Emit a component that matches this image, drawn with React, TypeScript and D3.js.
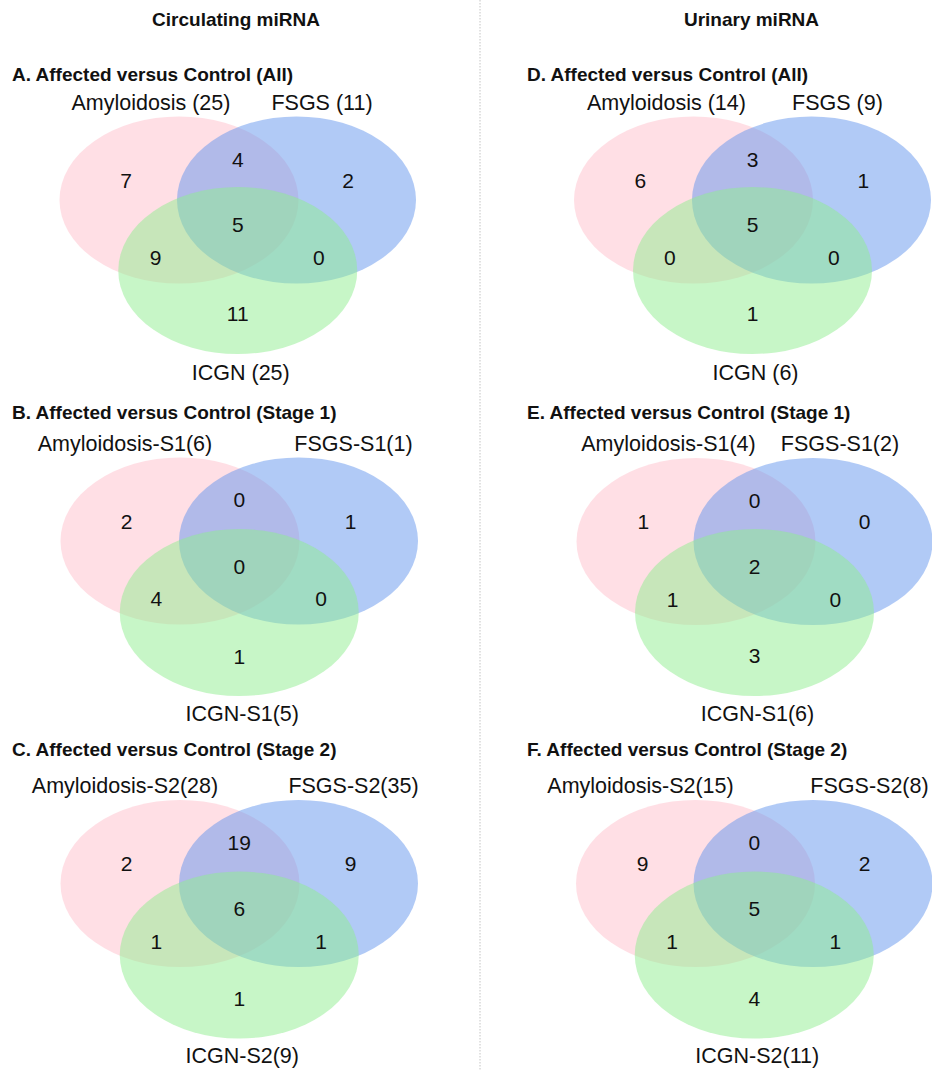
import React, { useEffect, useRef } from 'react';
import * as d3 from 'd3';

const columnHeaders = ["Circulating miRNA", "Urinary miRNA"];

const panelTitles = [
  "A. Affected versus Control (All)",
  "B. Affected versus Control (Stage 1)",
  "C. Affected versus Control (Stage 2)",
  "D. Affected versus Control (All)",
  "E. Affected versus Control (Stage 1)",
  "F. Affected versus Control (Stage 2)",
];

const setNames = [
  ["Amyloidosis (25)", "FSGS (11)", "ICGN (25)"],
  ["Amyloidosis-S1(6)", "FSGS-S1(1)", "ICGN-S1(5)"],
  ["Amyloidosis-S2(28)", "FSGS-S2(35)", "ICGN-S2(9)"],
  ["Amyloidosis (14)", "FSGS (9)", "ICGN (6)"],
  ["Amyloidosis-S1(4)", "FSGS-S1(2)", "ICGN-S1(6)"],
  ["Amyloidosis-S2(15)", "FSGS-S2(8)", "ICGN-S2(11)"],
];

// region order: only Amy, Amy&FSGS, only FSGS, all three, Amy&ICGN, FSGS&ICGN, only ICGN
const regionCounts = [
  [7, 4, 2, 5, 9, 0, 11],
  [2, 0, 1, 0, 4, 0, 1],
  [2, 19, 9, 6, 1, 1, 1],
  [6, 3, 1, 5, 0, 0, 1],
  [1, 0, 0, 2, 1, 0, 3],
  [9, 0, 2, 5, 1, 1, 4],
];

const setColors = ["pink", "cornflowerblue", "lightgreen"];

// where each panel sits on the page (pixel layout, not data)
const frames = [
  { ax: 179, bx: 296.5, ay: 200, cy: 270.5, tx: 12, ty: 81, ldx: -28, rdx: 143 },
  { ax: 180, bx: 298.5, ay: 541, cy: 612.5, tx: 12, ty: 419, ldx: -55, rdx: 173.5 },
  { ax: 180, bx: 298.5, ay: 883.5, cy: 955, tx: 12, ty: 756, ldx: -55, rdx: 173.5 },
  { ax: 693.5, bx: 811.5, ay: 200, cy: 270.5, tx: 527, ty: 81, ldx: -27, rdx: 144 },
  { ax: 696, bx: 813, ay: 541.5, cy: 612.5, tx: 527, ty: 419, ldx: -27.5, rdx: 144 },
  { ax: 695.5, bx: 813, ay: 883.5, cy: 955, tx: 527, ty: 756, ldx: -55, rdx: 174 },
];

// region label spots in venn units (x: Amy centre=0, FSGS centre=1; y: top row=0, ICGN centre=1)
const regionSpots = [
  [-0.45, -0.28], [0.5, -0.58], [1.44, -0.28], [0.5, 0.35],
  [-0.2, 0.81], [1.19, 0.81], [0.5, 1.61],
];

const W = 932, H = 1070;
const FONT = "'Liberation Sans', Arial, Helvetica, sans-serif";

export default function App() {
  const ref = useRef<SVGSVGElement>(null);

  useEffect(() => {
    const svg = d3.select(ref.current);
    svg.selectAll("*").remove();
    svg.attr("font-family", FONT);

    svg.append("line")
      .attr("x1", 480).attr("x2", 480)
      .attr("y1", 0).attr("y2", H)
      .attr("stroke", "#c4c4c4")
      .attr("stroke-width", 1)
      .attr("stroke-dasharray", "1.5,1.5");

    svg.selectAll("text.header")
      .data(columnHeaders)
      .enter().append("text")
      .attr("class", "header")
      .attr("x", (d, i) => [236, 751.5][i])
      .attr("y", 26)
      .attr("text-anchor", "middle")
      .attr("font-size", 19)
      .attr("font-weight", "bold")
      .attr("fill", "#111")
      .text(d => d);

    frames.forEach((f, p) => {
      const x = d3.scaleLinear().domain([0, 1]).range([f.ax, f.bx]);
      const y = d3.scaleLinear().domain([0, 1]).range([f.ay, f.cy]);
      const g = svg.append("g");

      g.append("text")
        .attr("x", f.tx).attr("y", f.ty)
        .attr("font-size", 19)
        .attr("font-weight", "bold")
        .attr("fill", "#111")
        .text(panelTitles[p]);

      const centres = [[x(0), y(0)], [x(1), y(0)], [x(0.5), y(1)]];
      g.selectAll("ellipse")
        .data(setColors)
        .enter().append("ellipse")
        .attr("cx", (d, i) => centres[i][0])
        .attr("cy", (d, i) => centres[i][1])
        .attr("rx", 119.5)
        .attr("ry", 83.5)
        .attr("fill", d => d)
        .attr("fill-opacity", 0.5);

      g.selectAll("text.count")
        .data(regionCounts[p])
        .enter().append("text")
        .attr("class", "count")
        .attr("x", (d, i) => x(regionSpots[i][0]))
        .attr("y", (d, i) => y(regionSpots[i][1]))
        .attr("dy", "0.36em")
        .attr("text-anchor", "middle")
        .attr("font-size", 21)
        .attr("fill", "#111")
        .text(d => d);

      const labelPos = [
        [x(0) + f.ldx, y(0) - 90.5],
        [x(0) + f.rdx, y(0) - 90.5],
        [x(0.5) + 3, y(0) + 179.5],
      ];
      g.selectAll("text.setname")
        .data(setNames[p])
        .enter().append("text")
        .attr("class", "setname")
        .attr("x", (d, i) => labelPos[i][0])
        .attr("y", (d, i) => labelPos[i][1])
        .attr("text-anchor", "middle")
        .attr("font-size", 21.5)
        .attr("fill", "#111")
        .text(d => d);
    });
  }, []);

  return (
    <div style={{ position: "absolute", left: 0, top: 0, width: W, height: H, background: "#fff" }}>
      <svg ref={ref} width={W} height={H} style={{ display: "block" }} />
    </div>
  );
}
